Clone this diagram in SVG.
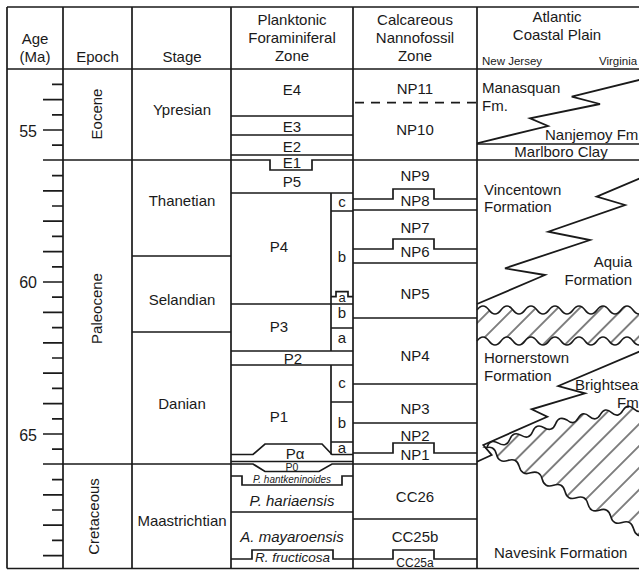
<svg xmlns="http://www.w3.org/2000/svg" width="639" height="570" viewBox="0 0 639 570">
<defs>
<style>
.ln{fill:none;stroke:#1a1a1a;stroke-width:1.7}
.ds{fill:none;stroke:#1a1a1a;stroke-width:1.7;stroke-dasharray:9 7}
.zz{fill:none;stroke:#1a1a1a;stroke-width:1.8;stroke-linejoin:miter}
.wv{fill:none;stroke:#1a1a1a;stroke-width:1.6}
text{font-family:"Liberation Sans",Arial,Helvetica,sans-serif;fill:#1a1a1a;font-size:15px}
.m{text-anchor:middle}
.e{text-anchor:end}
.i{font-style:italic}
.sm{font-size:11.5px}
.ag{font-size:16px}
</style>
<pattern id="hatch" width="15.5" height="15.5" patternUnits="userSpaceOnUse" patternTransform="rotate(45)">
<line x1="7.75" y1="-1" x2="7.75" y2="16.5" stroke="#1a1a1a" stroke-width="1.1"/>
</pattern>
<clipPath id="b1a"><path d="M477 310 q6 -8 12 0 t12 0 t12 0 t12 0 t12 0 t12 0 t12 0 t12 0 t12 0 t12 0 t12 0 t12 0 t12 0 t12 0 L645 600 L477 600Z"/></clipPath>
<clipPath id="b1b"><path d="M477 341 q6 -8 12 0 t12 0 t12 0 t12 0 t12 0 t12 0 t12 0 t12 0 t12 0 t12 0 t12 0 t12 0 t12 0 t12 0 L645 0 L477 0Z"/></clipPath>
<clipPath id="w1a"><path d="M487 447 q3.47 -8.57 11.43 -3.857 t11.43 -3.857 t11.43 -3.857 t11.43 -3.857 t11.43 -3.857 t11.43 -3.857 t11.43 -3.857 q6.72 5.97 11.14 -1.857 t11.14 -1.857 t11.14 -1.857 t11.14 -1.857 t11.14 -1.857 t11.14 -1.857 t11.14 -1.857 L645 600 L480 600 L480 447Z"/></clipPath>
<clipPath id="w1b"><path d="M485 448 q9.06 -3.04 11.43 6.214 t11.43 6.214 t11.43 6.214 t11.43 6.214 t11.43 6.214 t11.43 6.214 t11.43 6.214 t11.43 6.214 t11.43 6.214 t11.43 6.214 t11.43 6.214 t11.43 6.214 t11.43 6.214 t11.43 6.214 L645 300 L480 300 L480 448Z"/></clipPath>
</defs>
<rect x="0" y="0" width="639" height="570" fill="#ffffff"/>

<g id="boundaries">
<path class="ln" d="M7 7H639M7 69H639M7 568.5H639M7 7V568.5M63 7V568.5M132 7V568.5M231 7V568.5M353 7V568.5M477 7V568.5"/>
<path class="ln" d="M43 160H270V170H312V160H639"/>
<path class="ln" d="M43 464H253L265 471.5H319L332 464H477"/>
<path class="ln" d="M132 256H231M132 332H231"/>
<path class="ln" d="M231 116H353M231 135H353M231 155H353M231 193H353M331 193V351M331 365V454.5M331 211H353M331 296.7H336V291.7H348V296.7H353M231 304H353M331 328H353M231 351H353M231 365H353M331 402H353M331 442H353"/>
<path class="ln" d="M231 454.5H253L265 444H322L332 454.5H353M231 461.5H353M231 476H242V485H342V476H353M231 512H353M231 559H252V550H333V559H353"/>
<path class="ds" d="M355 102.7H477"/>
<path class="ln" d="M353 199H393V189H434V199H477M353 210H477M353 249H393V239H434V249H477M353 263H477M353 318H477M353 384H477M353 423H477M353 453H393V443H434V453H477M353 519H477M353 559H393V550H434V559H477"/>
<path class="ln" d="M477 144H639"/>
<path class="zz" d="M477 143.3L548 126L530 118.3L600 104L571.7 96.7L641 79.5"/>
<path class="zz" d="M477 304L545 275L505 268.3L590 240L548.3 231.7L625 205L596.7 196.7L641 177.8"/>
<path class="zz" d="M641 351L558.3 386L585 393.3L531.7 409.3L547.3 416.7L483.3 445L491.7 455L477 461.7"/>
</g>

<g id="age-axis">
<path class="ln" d="M52 84.4H63M52 114.8H63M52 145.2H63M52 175.6H63M52 206H63M52 236.4H63M52 266.8H63M52 297.2H63M52 327.6H63M52 358H63M52 388.4H63M52 418.8H63M52 449.2H63M52 479.6H63M52 510H63M52 540.4H63M43 99.6H63M43 130H63M43 190.8H63M43 221.2H63M43 251.6H63M43 282H63M43 312.4H63M43 342.8H63M43 373.2H63M43 403.6H63M43 434H63M43 494.8H63M43 525.2H63M43 555.6H63"/>
<text class="ag e" x="37" y="136.5">55</text>
<text class="ag e" x="37" y="288">60</text>
<text class="ag e" x="37" y="440.5">65</text>
</g>

<g id="header">
<text class="m" x="35" y="44">Age</text>
<text class="m" x="35" y="62">(Ma)</text>
<text class="m" x="97.5" y="62">Epoch</text>
<text class="m" x="182" y="62">Stage</text>
<text class="m" x="292" y="25">Planktonic</text>
<text class="m" x="292" y="43">Foraminiferal</text>
<text class="m" x="292" y="61">Zone</text>
<text class="m" x="415" y="25">Calcareous</text>
<text class="m" x="415" y="43">Nannofossil</text>
<text class="m" x="415" y="61">Zone</text>
<text class="m" x="557" y="21.5">Atlantic</text>
<text class="m" x="557" y="39.5">Coastal Plain</text>
<text class="sm" x="482" y="65">New Jersey</text>
<text class="sm" x="599" y="65">Virginia</text>
</g>

<g id="epoch-eocene"><text class="m" transform="translate(101.5 114) rotate(-90)">Eocene</text></g>
<g id="epoch-paleocene"><text class="m" transform="translate(101.5 308.5) rotate(-90)">Paleocene</text></g>
<g id="epoch-cretaceous"><text class="m" transform="translate(98.5 516.5) rotate(-90)">Cretaceous</text></g>

<g id="stage-ypresian"><text class="m" x="182" y="115">Ypresian</text></g>
<g id="stage-thanetian"><text class="m" x="182" y="206">Thanetian</text></g>
<g id="stage-selandian"><text class="m" x="182" y="305">Selandian</text></g>
<g id="stage-danian"><text class="m" x="182" y="409">Danian</text></g>
<g id="stage-maastrichtian"><text class="m" x="182" y="526">Maastrichtian</text></g>

<g id="foram-zones">
<text class="m" x="292" y="95">E4</text>
<text class="m" x="292" y="132">E3</text>
<text class="m" x="292" y="151.5">E2</text>
<text class="m" x="292" y="167.5">E1</text>
<text class="m" x="292" y="187">P5</text>
<text class="m" x="279" y="252">P4</text>
<text class="m" x="342" y="207">c</text>
<text class="m" x="342" y="262">b</text>
<text class="m" x="342" y="302" style="font-size:13px">a</text>
<text class="m" x="279" y="332">P3</text>
<text class="m" x="342" y="318">b</text>
<text class="m" x="342" y="343">a</text>
<text class="m" x="293" y="363.5">P2</text>
<text class="m" x="279" y="422">P1</text>
<text class="m" x="342" y="388">c</text>
<text class="m" x="342" y="428">b</text>
<text class="m" x="342" y="453">a</text>
<text class="m" x="295" y="459">Pα</text>
<text class="m" x="292" y="471" style="font-size:10.5px">P0</text>
<text class="m i" x="292" y="483" style="font-size:10px">P. hantkeninoides</text>
<text class="m i" x="292" y="505.5">P. hariaensis</text>
<text class="m i" x="292" y="541.5">A. mayaroensis</text>
<text class="m i" x="292.5" y="562" style="font-size:13.5px">R. fructicosa</text>
</g>

<g id="nanno-zones">
<text class="m" x="415" y="94">NP11</text>
<text class="m" x="415" y="135">NP10</text>
<text class="m" x="415" y="181">NP9</text>
<text class="m" x="415" y="205.5">NP8</text>
<text class="m" x="415" y="233">NP7</text>
<text class="m" x="415" y="257">NP6</text>
<text class="m" x="415" y="298.5">NP5</text>
<text class="m" x="415" y="360.5">NP4</text>
<text class="m" x="415" y="413.5">NP3</text>
<text class="m" x="415" y="440.5">NP2</text>
<text class="m" x="415" y="459.5">NP1</text>
<text class="m" x="415" y="502">CC26</text>
<text class="m" x="415" y="541.5">CC25b</text>
<text class="m" x="415" y="567" style="font-size:12px">CC25a</text>
</g>

<g id="atlantic-hatch">
<g clip-path="url(#b1a)"><g clip-path="url(#b1b)"><rect x="477" y="295" width="170" height="60" fill="url(#hatch)"/></g></g>
<g clip-path="url(#w1a)"><g clip-path="url(#w1b)"><rect x="477" y="395" width="170" height="150" fill="url(#hatch)"/></g></g>
<path class="wv" d="M477 310 q6 -8 12 0 t12 0 t12 0 t12 0 t12 0 t12 0 t12 0 t12 0 t12 0 t12 0 t12 0 t12 0 t12 0 t12 0"/>
<path class="wv" d="M477 341 q6 -8 12 0 t12 0 t12 0 t12 0 t12 0 t12 0 t12 0 t12 0 t12 0 t12 0 t12 0 t12 0 t12 0 t12 0"/>
<path class="wv" d="M487 447 q3.47 -8.57 11.43 -3.857 t11.43 -3.857 t11.43 -3.857 t11.43 -3.857 t11.43 -3.857 t11.43 -3.857 t11.43 -3.857 q6.72 5.97 11.14 -1.857 t11.14 -1.857 t11.14 -1.857 t11.14 -1.857 t11.14 -1.857 t11.14 -1.857 t11.14 -1.857"/>
<path class="wv" d="M485 448 q9.06 -3.04 11.43 6.214 t11.43 6.214 t11.43 6.214 t11.43 6.214 t11.43 6.214 t11.43 6.214 t11.43 6.214 t11.43 6.214 t11.43 6.214 t11.43 6.214 t11.43 6.214 t11.43 6.214 t11.43 6.214 t11.43 6.214"/>
</g>

<g id="atlantic-formations">
<text x="482" y="93">Manasquan</text>
<text x="482" y="110.5">Fm.</text>
<text x="545" y="140">Nanjemoy Fm</text>
<text class="m" x="561" y="157">Marlboro Clay</text>
<text x="484" y="195">Vincentown</text>
<text x="484" y="212">Formation</text>
<text class="e" x="632" y="267">Aquia</text>
<text class="e" x="632" y="285">Formation</text>
<text x="484" y="363">Hornerstown</text>
<text x="484" y="380.5">Formation</text>
<text x="575" y="390">Brightseat</text>
<text x="617" y="408">Fm</text>
<text x="494" y="558">Navesink Formation</text>
</g>
</svg>
